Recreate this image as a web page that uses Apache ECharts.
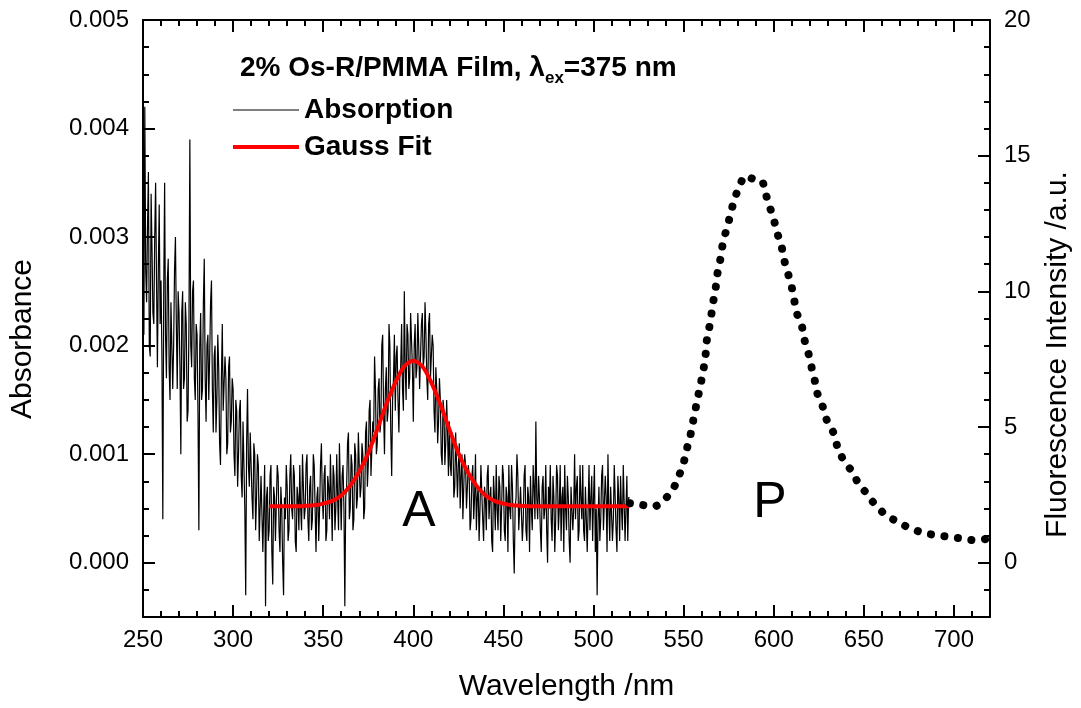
<!DOCTYPE html>
<html><head><meta charset="utf-8">
<script src="https://cdn.jsdelivr.net/npm/echarts@6/dist/echarts.min.js"></script>
<style>html,body{margin:0;padding:0;background:#fff}#c{width:1081px;height:708px}</style>
</head><body><div id="c"></div>
<script>
// ---- data (absorbance values in units of 0.001) ----
const absStartNm = 250, absStepNm = 0.5;   // absorption spectrum: 250..520 nm
const absorbanceMilli = [
  3.0, 2.1, 4.2, 2.7, 2.4, 3.1, 3.6, 2.0, 1.9, 3.4, 2.9, 2.3, 2.2, 3.0, 3.5, 2.6, 1.8, 2.7, 3.3, 2.2,
  2.6, 1.9, 0.4, 2.5, 3.5, 2.1, 1.7, 2.6, 2.8, 1.8, 1.5, 2.4, 2.4, 1.6, 2.0, 2.7, 3.0, 2.2, 1.6, 2.5,
  2.3, 1.8, 1.0, 2.3, 2.5, 1.6, 1.7, 2.4, 2.2, 1.3, 1.4, 2.2, 3.9, 2.0, 1.8, 2.5, 2.6, 1.7, 1.5, 2.2,
  2.1, 1.4, 0.3, 2.0, 2.3, 1.5, 1.6, 2.4, 2.8, 1.7, 1.3, 2.0, 2.1, 1.5, 1.9, 2.4, 2.6, 1.6, 1.2, 1.9,
  2.0, 1.2, 1.5, 2.1, 1.8, 1.1, 0.9, 1.7, 2.2, 1.4, 1.4, 1.9, 1.7, 1.0, 1.1, 1.8, 1.9, 1.2, 1.3, 1.7,
  1.6, 1.0, 0.8, 1.5, 1.4, 0.7, 1.0, 1.4, 1.5, 0.8, 0.6, 1.3, 1.3, 0.5, -0.3, 1.1, 1.6, 0.9, 0.7, 1.2,
  1.2, 0.6, 0.4, 1.1, 1.0, 0.3, 0.6, 1.0, 0.9, 0.2, 0.2, 0.8, 0.8, 0.1, 0.5, 0.9, -0.4, 0.6, 0.7, 0.2,
  0.3, 0.8, 0.9, 0.1, -0.2, 0.7, 0.6, 0.2, 0.2, 0.9, 0.8, 0.3, 0.1, 0.7, 0.5, 0.0, -0.3, 0.6, 0.4, 0.9,
  0.7, 0.2, 0.3, 0.8, 1.0, 0.5, 0.4, 0.9, 0.8, 0.2, 0.1, 0.7, 0.6, 0.3, 0.9, 0.5, 0.3, 1.0, 0.7, 0.4,
  0.5, 0.9, 1.0, 0.4, 0.2, 0.7, 0.8, 0.3, 0.4, 1.0, 0.9, 0.5, 0.1, 0.6, 0.7, 0.2, 0.5, 0.9, 1.1, 0.6,
  0.4, 0.8, 0.9, 0.2, 0.3, 0.8, 0.7, 0.4, 1.0, 0.6, 0.2, 0.9, 0.8, 0.3, 0.5, 1.0, 0.6, 0.3, 1.1, 0.7,
  0.3, 0.8, 0.9, 0.5, -0.4, 0.6, 0.7, 1.1, 1.2, 0.4, 0.5, 1.0, 0.9, 0.3, 0.4, 1.1, 1.0, 0.5, 0.6, 1.2,
  1.2, 0.6, 0.7, 1.1, 1.0, 0.4, 0.5, 1.2, 1.3, 0.7, 0.9, 1.4, 1.5, 0.8, 0.8, 1.3, 1.2, 1.9, 1.6, 1.0,
  1.1, 1.6, 1.7, 1.2, 1.3, 2.0, 2.1, 1.4, 1.0, 1.6, 1.8, 1.3, 1.4, 2.2, 2.0, 1.2, 0.8, 1.5, 1.7, 2.1,
  1.4, 1.9, 2.0, 1.5, 1.2, 1.7, 1.8, 2.2, 1.6, 1.4, 2.5, 1.8, 1.5, 2.2, 2.1, 1.6, 1.7, 2.3, 2.3, 1.8,
  1.3, 2.0, 2.2, 1.7, 1.8, 2.3, 2.0, 1.6, 1.6, 2.2, 2.3, 1.8, 1.9, 2.4, 2.1, 1.7, 1.5, 2.2, 2.3, 1.7,
  1.7, 2.1, 2.0, 1.4, 1.2, 1.8, 1.6, 1.1, 1.3, 1.7, 1.5, 1.0, 0.9, 1.5, 1.4, 0.9, 1.1, 1.5, 1.2, 0.8,
  1.3, 0.9, 0.8, 1.2, 1.1, 0.6, 0.7, 1.2, 1.2, 0.6, 0.9, 1.1, 0.5, 0.8, 1.0, 0.4, 0.7, 1.0, 0.9, 0.5,
  0.5, 0.9, 0.8, 0.3, 0.4, 0.8, 0.9, 0.4, 0.6, 1.0, 0.3, 0.6, 0.7, 0.2, 0.5, 0.9, 0.9, 0.4, 0.2, 0.7,
  0.6, 0.3, 0.8, 0.9, 0.4, 0.6, 0.7, 0.2, 0.1, 0.8, 0.6, 0.3, 0.9, 0.5, 0.3, 0.8, 0.7, 0.2, 0.5, 0.9,
  0.8, 0.3, 0.2, 0.7, 0.6, 0.1, 0.9, 0.5, 0.4, 0.9, 0.7, 0.2, -0.1, 0.5, 0.6, 1.0, 0.8, 0.3, 0.3, 0.7,
  0.7, 0.2, 0.4, 0.8, 0.9, 0.3, 0.2, 0.7, 0.6, 0.1, 0.8, 0.5, 0.3, 0.9, 0.7, 0.4, 1.3, 0.6, 0.4, 0.8,
  0.6, 0.3, 0.1, 0.7, 0.8, 0.4, 0.5, 0.9, 0.3, 0.0, 0.7, 0.5, 0.9, 0.4, 0.2, 0.8, 0.6, 0.1, 0.4, 0.9,
  0.8, 0.3, 0.5, 0.9, 0.2, 0.6, 0.7, 0.1, 0.9, 0.5, 0.3, 0.8, 0.6, 0.2, 0.0, 0.7, 0.7, 0.3, 0.5, 1.0,
  0.4, 0.7, 0.8, 0.2, 0.3, 0.9, 0.6, 0.4, 0.9, 0.3, 0.2, 0.7, 0.7, 0.1, 0.5, 0.9, 0.3, 0.6, 0.8, 0.2,
  0.6, 0.9, 0.1, 0.5, -0.3, 0.4, 0.7, 0.2, 0.4, 0.8, 0.9, 0.3, 0.3, 0.8, 0.6, 0.1, 1.0, 0.5, 0.2, 0.7,
  0.7, 0.2, 0.4, 0.9, 0.9, 0.3, 0.1, 0.8, 0.6, 0.2, 0.8, 0.5, 0.3, 0.9, 0.9, 0.2, 0.5, 0.8, 0.2, 0.6,
  0.6
];
const gaussWavelength = [320,325,330,335,340,345,350,355,360,365,370,375,380,385,390,395,400,405,410,415,420,425,430,435,440,445,450,455,460,465,470,475,480,485,490,495,500,505,510,515,520];
const gaussFitMilli = [0.52,0.52,0.52,0.52,0.524,0.53,0.545,0.57,0.62,0.71,0.84,1.01,1.23,1.46,1.66,1.81,1.86,1.81,1.66,1.46,1.23,1.01,0.84,0.71,0.62,0.57,0.545,0.53,0.524,0.52,0.52,0.52,0.52,0.52,0.52,0.52,0.52,0.52,0.52,0.52,0.52];
const fluoWavelength = [520.2,527,533.5,539.8,544.8,547.8,550.3,552,553.9,555.3,556.8,558.3,559.8,561.2,562.2,562.8,564.2,565.4,566.5,567.8,568.7,570.2,571.3,572.9,574.4,575.9,577.9,580.5,584.2,589,593.6,595.6,598,600.2,602.1,604.4,605.9,608,610,611.4,612.9,615.7,617.1,619.3,621,622.8,624.2,627.2,629.4,633.3,635.3,638.6,642.8,646.7,652,656.2,662.3,668.6,675,682,689.3,696.5,703.9,711.4,717.6,720];
const fluoIntensity = [2.19,2.13,2.06,2.35,2.8,3.27,3.76,4.25,4.74,5.23,5.73,6.22,6.7,7.2,7.68,8.17,8.66,9.16,9.65,10.14,10.63,11.12,11.6,12.08,12.4,12.83,13.32,13.81,14.26,14.13,14.06,13.58,13.07,12.6,12.12,11.63,11.13,10.64,10.15,9.66,9.18,8.69,8.2,7.7,7.2,6.7,6.24,5.75,5.26,4.77,4.28,3.79,3.42,2.96,2.51,2.14,1.75,1.51,1.29,1.12,1.02,0.96,0.9,0.83,0.87,0.85];
const xRange = [250, 720], xMajor = 50, xMinor = 10;
const absRange = [-0.0005, 0.005], absMinor = 0.00025;
const fluoRange = [-2, 20], fluoMinor = 1;

// ---- build ----
const FONT = "'Liberation Sans', Arial, sans-serif";
const BLACK = '#000';
const absData = absorbanceMilli.map((v, i) => [absStartNm + i * absStepNm, v * 0.001]);
const gaussData = gaussWavelength.map((x, i) => [x, gaussFitMilli[i] * 0.001]);
const fluoData = fluoWavelength.map((x, i) => [x, fluoIntensity[i]]);

function tickAxis(base, len, showLine) {
  return Object.assign({
    type: 'value',
    axisLine: { show: showLine, onZero: false, lineStyle: { color: BLACK, width: 2 } },
    axisTick: { show: true, inside: true, length: len, lineStyle: { color: BLACK, width: 2 } },
    axisLabel: { show: false },
    splitLine: { show: false },
    silent: true
  }, base);
}
const labelStyle = { color: BLACK, fontSize: 24, fontFamily: FONT };
const nameStyle = { color: BLACK, fontSize: 30, fontFamily: FONT };

const xAxes = [
  tickAxis({ position: 'bottom', min: xRange[0], max: xRange[1], interval: xMajor,
    axisLabel: Object.assign({ show: true, margin: 11, showMaxLabel: false, showMinLabel: true }, labelStyle),
    name: 'Wavelength /nm', nameLocation: 'middle', nameGap: 55, nameTextStyle: nameStyle }, 12, true),
  tickAxis({ position: 'bottom', min: xRange[0], max: xRange[1], interval: xMinor }, 6, false),
  tickAxis({ position: 'top', min: xRange[0], max: xRange[1], interval: xMajor }, 12, true),
  tickAxis({ position: 'top', min: xRange[0], max: xRange[1], interval: xMinor }, 6, false)
];
const yAxes = [
  tickAxis({ position: 'left', min: absRange[0], max: absRange[1], splitNumber: 5,
    axisLabel: Object.assign({ show: true, margin: 14, showMinLabel: false, formatter: v => v.toFixed(3) }, labelStyle),
    name: 'Absorbance', nameLocation: 'middle', nameRotate: 90, nameGap: 105,
    nameTextStyle: Object.assign({ padding: [0, 41, 0, 0] }, nameStyle) }, 12, true),
  tickAxis({ position: 'left', min: absRange[0], max: absRange[1], interval: absMinor }, 6, false),
  tickAxis({ position: 'right', min: fluoRange[0], max: fluoRange[1], splitNumber: 4,
    axisLabel: Object.assign({ show: true, margin: 14, showMinLabel: false }, labelStyle),
    name: 'Fluorescence Intensity /a.u.', nameLocation: 'middle', nameRotate: 90, nameGap: 53,
    nameTextStyle: Object.assign({ padding: [0, 72, 0, 0] }, nameStyle) }, 12, true),
  tickAxis({ position: 'right', min: fluoRange[0], max: fluoRange[1], interval: fluoMinor }, 6, false)
];

const chart = echarts.init(document.getElementById('c'), null, { renderer: 'canvas' });
chart.setOption({
  animation: false,
  backgroundColor: '#fff',
  textStyle: { fontFamily: FONT },
  grid: { left: 143, top: 20, width: 851, height: 597, containLabel: false },
  title: {
    text: '2% Os-R/PMMA Film, λ{sub|ex}=375 nm',
    left: 240, top: 49, padding: 0,
    textStyle: {
      fontFamily: FONT, fontSize: 28, fontWeight: 'bold', color: BLACK, lineHeight: 38,
      rich: { sub: { fontFamily: FONT, fontSize: 17, fontWeight: 'bold', color: BLACK, lineHeight: 17, verticalAlign: 'bottom' } }
    }
  },
  legend: {
    data: [
      { name: 'Absorption', lineStyle: { width: 1.2 } },
      { name: 'Gauss Fit', lineStyle: { width: 4 } }
    ],
    orient: 'vertical', left: 231, top: 96, padding: 0,
    itemWidth: 66, itemHeight: 14, itemGap: 9,
    itemStyle: { opacity: 0 },
    textStyle: { fontFamily: FONT, fontSize: 28, fontWeight: 'bold', color: BLACK, lineHeight: 28 },
    selectedMode: false
  },
  xAxis: xAxes,
  yAxis: yAxes,
  series: [
    { name: 'Absorption', type: 'line', xAxisIndex: 0, yAxisIndex: 0, data: absData,
      symbol: 'none', lineStyle: { color: BLACK, width: 1.2 }, itemStyle: { color: BLACK }, z: 2 },
    { name: 'Gauss Fit', type: 'line', xAxisIndex: 0, yAxisIndex: 0, data: gaussData, smooth: 0.3,
      symbol: 'none', lineStyle: { color: '#ff0000', width: 4 }, itemStyle: { color: '#ff0000' }, z: 3 },
    { name: 'Fluorescence', type: 'line', xAxisIndex: 0, yAxisIndex: 2, data: fluoData, smooth: 0.2,
      symbol: 'none', lineStyle: { color: BLACK, width: 8, type: [0.1, 13.5], cap: 'round' }, z: 4 }
  ],
  graphic: [
    { type: 'text', x: 419, y: 512, silent: true,
      style: { text: 'A', fontFamily: FONT, fontSize: 50, fill: BLACK, align: 'center', verticalAlign: 'middle' } },
    { type: 'text', x: 770, y: 503, silent: true,
      style: { text: 'P', fontFamily: FONT, fontSize: 50, fill: BLACK, align: 'center', verticalAlign: 'middle' } }
  ]
});
</script></body></html>
